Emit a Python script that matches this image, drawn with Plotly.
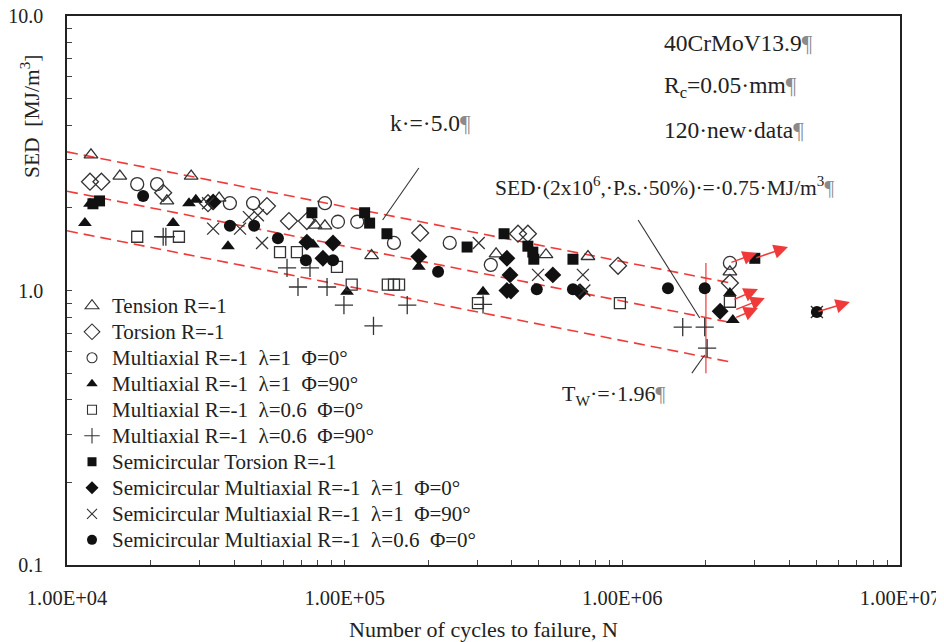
import numpy as np
import plotly.graph_objects as go

# ---------------- data ----------------
tension_N = [1.22e4, 1.55e4, 2.29e4, 2.80e4, 3.53e4, 7.82e4, 8.49e4, 1.25e5, 3.51e5, 5.31e5, 7.52e5, 2.44e6]
tension_sed = [3.12, 2.61, 2.12, 2.61, 2.17, 1.73, 1.72, 1.34, 1.36, 1.35, 1.33, 1.17]

torsion_N = [1.21e4, 1.33e4, 2.22e4, 3.22e4, 5.25e4, 6.30e4, 7.31e4, 1.87e5, 4.21e5, 4.57e5, 9.65e5, 2.44e6]
torsion_sed = [2.49, 2.49, 2.27, 2.08, 2.03, 1.79, 1.79, 1.62, 1.61, 1.61, 1.23, 1.065]

m1_0_N = [1.79e4, 2.11e4, 3.86e4, 4.68e4, 8.49e4, 9.46e4, 1.11e5, 1.505e5, 2.39e5, 3.36e5, 2.44e6]
m1_0_sed = [2.44, 2.44, 2.08, 2.08, 2.08, 1.78, 1.78, 1.49, 1.49, 1.24, 1.26]

m1_90_N = [1.16e4, 1.21e4, 2.41e4, 2.75e4, 2.91e4, 3.80e4, 7.69e4, 1.02e5, 1.85e5, 3.15e5, 2.44e6, 2.50e6]
m1_90_sed = [1.76, 2.07, 1.76, 2.08, 2.14, 1.45, 1.47, 0.99, 1.22, 0.99, 0.98, 0.78]

m06_0_N = [1.79e4, 2.53e4, 5.85e4, 6.73e4, 9.38e4, 1.06e5, 1.43e5, 1.505e5, 1.57e5, 3.02e5, 9.8e5, 2.44e6]
m06_0_sed = [1.57, 1.57, 1.38, 1.38, 1.22, 1.05, 1.05, 1.05, 1.05, 0.90, 0.90, 0.91]

m06_90_N = [2.22e4, 2.27e4, 6.20e4, 7.50e4, 6.79e4, 8.64e4, 9.94e4, 1.68e5, 1.27e5, 3.15e5, 1.65e6, 1.98e6, 2.02e6]
m06_90_sed = [1.57, 1.57, 1.21, 1.21, 1.03, 1.03, 0.885, 0.885, 0.743, 0.89, 0.736, 0.736, 0.617]

st_N = [1.24e4, 1.31e4, 7.62e4, 1.18e5, 1.23e5, 1.42e5, 2.76e5, 3.75e5, 4.57e5, 4.76e5, 4.80e5, 6.64e5, 3.0e6]
st_sed = [2.07, 2.12, 1.92, 1.92, 1.76, 1.61, 1.44, 1.61, 1.45, 1.38, 1.30, 1.30, 1.31]

sm1_0_N = [3.36e4, 7.31e4, 9.08e4, 8.35e4, 1.85e5, 3.84e5, 3.94e5, 5.62e5, 3.84e5, 3.97e5, 7.04e5, 2.25e6]
sm1_0_sed = [2.10, 1.50, 1.49, 1.31, 1.33, 1.31, 1.14, 1.14, 1.00, 0.996, 0.99, 0.84]

sm1_90_N = [3.22e4, 3.36e4, 4.20e4, 4.52e4, 4.87e4, 5.04e4, 3.04e5, 4.97e5, 7.21e5, 7.30e5, 5.02e6]
sm1_90_sed = [2.08, 1.68, 1.68, 1.85, 1.88, 1.49, 1.49, 1.14, 1.14, 1.00, 0.835]

sm06_0_N = [1.88e4, 3.86e4, 4.72e4, 5.75e4, 7.25e4, 9.08e4, 2.17e5, 4.92e5, 6.64e5, 1.46e6, 1.98e6, 5.02e6]
sm06_0_sed = [2.21, 1.72, 1.72, 1.55, 1.29, 1.29, 1.17, 1.01, 1.01, 1.02, 1.02, 0.835]

# scatter band (k = 5, T_W = 1.96)
band_N = [1.0e4, 2.5e6]
band_upper = [3.2, 1.061]
band_mid = [2.3, 0.762]
band_lower = [1.65, 0.547]

# vertical line at 2x10^6 cycles
vline_N = [2.0e6, 2.0e6]
vline_sed = [1.26, 0.50]

# leader lines for the labels
k_line_N = [1.85e5, 1.37e5]
k_line_sed = [2.795, 1.806]
sed_line_N = [1.14e6, 1.90e6]
sed_line_sed = [1.806, 0.794]
tw_line_N = [1.78e6, 1.98e6]
tw_line_sed = [0.50, 0.582]

# run-out arrows (start -> end)
run_start_N = [2.44e6, 3.0e6, 2.50e6, 2.54e6, 2.54e6, 5.02e6]
run_start_sed = [1.26, 1.31, 0.923, 0.849, 0.794, 0.835]
run_end_N = [3.05e6, 3.95e6, 3.08e6, 3.26e6, 3.08e6, 6.6e6]
run_end_sed = [1.37, 1.44, 1.013, 0.939, 0.863, 0.908]

legend_names = [
    "Tension R=-1",
    "Torsion R=-1",
    "Multiaxial R=-1\u00a0\u00a0λ=1\u00a0\u00a0Φ=0°",
    "Multiaxial R=-1\u00a0\u00a0λ=1\u00a0\u00a0Φ=90°",
    "Multiaxial R=-1\u00a0\u00a0λ=0.6\u00a0\u00a0Φ=0°",
    "Multiaxial R=-1\u00a0\u00a0λ=0.6\u00a0\u00a0Φ=90°",
    "Semicircular Torsion R=-1",
    "Semicircular Multiaxial R=-1\u00a0\u00a0λ=1\u00a0\u00a0Φ=0°",
    "Semicircular Multiaxial R=-1\u00a0\u00a0λ=1\u00a0\u00a0Φ=90°",
    "Semicircular Multiaxial R=-1\u00a0\u00a0λ=0.6\u00a0\u00a0Φ=0°",
]

x_tickvals = [1e4, 1e5, 1e6, 1e7]
x_ticktext = ["1.00E+04", "1.00E+05", "1.00E+06", "1.00E+07"]
y_tickvals = [0.1, 1.0, 10.0]
y_ticktext = ["0.1", "1.0", "10.0"]

# ---------------- figure ----------------
FONT = "Liberation Serif, Times New Roman, serif"
INK = "#222222"
RED = "#f03a3a"

series = [
    (tension_N, tension_sed, "triangle-up-open", 12, 12),
    (torsion_N, torsion_sed, "diamond-open", 13, 12),
    (m1_0_N, m1_0_sed, "circle-open", 13, 10),
    (m1_90_N, m1_90_sed, "triangle-up", 12, 10),
    (m06_0_N, m06_0_sed, "square-open", 11, 9),
    (m06_90_N, m06_90_sed, "cross-thin-open", 13, 11),
    (st_N, st_sed, "square", 11, 9),
    (sm1_0_N, sm1_0_sed, "diamond", 13, 10),
    (sm1_90_N, sm1_90_sed, "x-thin-open", 12, 10),
    (sm06_0_N, sm06_0_sed, "circle", 12, 10),
]

fig = go.Figure()

for yy in (band_upper, band_mid, band_lower):
    fig.add_trace(go.Scatter(x=band_N, y=yy, mode="lines", showlegend=False,
                             line=dict(color=RED, width=1.6, dash="11px,6px"),
                             hoverinfo="skip"))
fig.add_trace(go.Scatter(x=vline_N, y=vline_sed, mode="lines", showlegend=False,
                         line=dict(color=RED, width=1.2), hoverinfo="skip"))
for lx, ly in ((k_line_N, k_line_sed), (sed_line_N, sed_line_sed), (tw_line_N, tw_line_sed)):
    fig.add_trace(go.Scatter(x=lx, y=ly, mode="lines", showlegend=False,
                             line=dict(color="#333333", width=1.1), hoverinfo="skip"))

for (xs, ys, sym, size, _), name in zip(series, legend_names):
    filled = not sym.endswith("open")
    fig.add_trace(go.Scatter(
        x=xs, y=ys, mode="markers", name=name, showlegend=False,
        marker=dict(symbol=sym, size=size, color="#111111" if filled else "#333333",
                    line=dict(width=1.3 if not filled else 0, color="#333333"))))

# legend-only entries with smaller symbols
for (xs, ys, sym, size, lsize), name in zip(series, legend_names):
    filled = not sym.endswith("open")
    fig.add_trace(go.Scatter(
        x=[None], y=[None], mode="markers",
        name='<span style="font-size:21px">' + name + "</span>", showlegend=True,
        marker=dict(symbol=sym, size=lsize, color="#111111" if filled else "#333333",
                    line=dict(width=1.1 if not filled else 0, color="#333333"))))

# run-out arrows
for sx, sy, ex, ey in zip(run_start_N, run_start_sed, run_end_N, run_end_sed):
    fig.add_annotation(x=np.log10(ex), y=np.log10(ey), ax=np.log10(sx), ay=np.log10(sy),
                       xref="x", yref="y", axref="x", ayref="y", text="",
                       showarrow=True, arrowhead=2, arrowsize=1.9, arrowwidth=1.5,
                       arrowcolor=RED, standoff=0, startstandoff=0)

PIL = '<span style="color:#8a8a8a">¶</span>'
texts = [
    ("40CrMoV13.9" + PIL, 0.714, 0.951, 23.5),
    ("R<sub>c</sub>=0.05·mm" + PIL, 0.714, 0.871, 23.5),
    ("120·new·data" + PIL, 0.714, 0.792, 23.5),
    ("k·=·5.0" + PIL, 0.385, 0.805, 23.5),
    ("SED·(2x10<sup>6</sup>,·P.s.·50%)·=·0.75·MJ/m<sup>3</sup>" + PIL, 0.511, 0.689, 21.5),
    ("T<sub>W</sub>·=·1.96" + PIL, 0.592, 0.310, 22),
]
for t, xx, yy, fs in texts:
    fig.add_annotation(text=t, x=xx, y=yy, xref="paper", yref="paper",
                       xanchor="left", yanchor="middle", showarrow=False,
                       font=dict(family=FONT, size=fs, color=INK))

# axis titles
fig.add_annotation(text="SED\u00a0\u00a0[MJ/m<sup>3</sup>]", x=-0.0444, y=0.816, xref="paper", yref="paper",
                   textangle=-90, showarrow=False, xanchor="center", yanchor="middle",
                   font=dict(family=FONT, size=21.5, color=INK))
fig.add_annotation(text="Number of cycles to failure, N", x=0.5, y=-0.118, xref="paper", yref="paper",
                   showarrow=False, xanchor="center", yanchor="middle",
                   font=dict(family=FONT, size=22, color=INK))

axis_common = dict(showline=True, linecolor="#222222", linewidth=1.6, mirror=True,
                   showgrid=False, zeroline=False, ticks="inside", ticklen=5,
                   tickcolor="#444444", tickwidth=1, ticklabeloverflow="allow",
                   automargin=False)

fig.update_xaxes(type="log", range=[4, 7], tickmode="array", tickvals=x_tickvals,
                 ticktext=x_ticktext, ticklabelstandoff=14,
                 tickfont=dict(family=FONT, size=20.5, color=INK),
                 minor=dict(ticks="inside", ticklen=5, dtick="D1", tickcolor="#444444", showgrid=False),
                 **axis_common)
fig.update_yaxes(type="log", range=[-1, 1], tickmode="array", tickvals=y_tickvals,
                 ticktext=y_ticktext, ticklabelstandoff=18,
                 tickfont=dict(family=FONT, size=20, color=INK),
                 minor=dict(ticks="inside", ticklen=5, dtick="D1", tickcolor="#444444", showgrid=False),
                 **axis_common)

# page body has an 8px margin, so the figure is made 8px smaller on each side
fig.update_layout(
    width=936, height=634,
    margin=dict(l=59, r=44, t=8, b=77, autoexpand=False),
    paper_bgcolor="white", plot_bgcolor="white",
    font=dict(family=FONT, size=18, color=INK),
    legend=dict(x=0.006, y=0.505, xanchor="left", yanchor="top",
                bgcolor="rgba(0,0,0,0)", font=dict(family=FONT, size=17.7, color=INK),
                tracegroupgap=0, itemsizing="trace"),
    showlegend=True,
)

fig.write_html("out.html")
